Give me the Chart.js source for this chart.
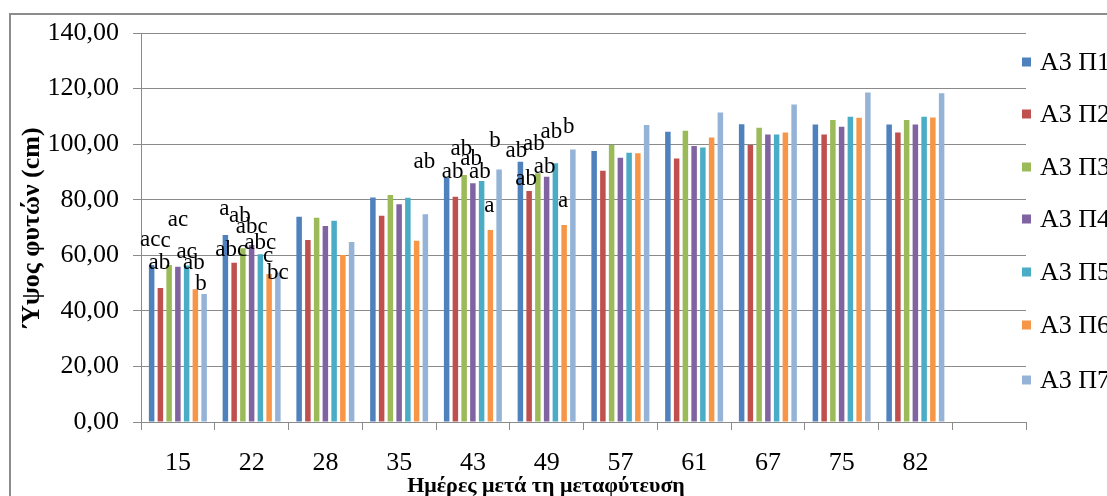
<!DOCTYPE html>
<html>
<head>
<meta charset="utf-8">
<script src="https://cdn.jsdelivr.net/npm/chart.js@4.4.1/dist/chart.umd.min.js"></script>
<style>
html,body{margin:0;padding:0;background:#fff;overflow:hidden;}
canvas{display:block;}
</style>
</head>
<body>
<canvas id="c" width="1107" height="496"></canvas>
<script>
// ---- data ----
const categories = ['15','22','28','35','43','49','57','61','67','75','82',''];
const seriesNames = ['Α3 Π1','Α3 Π2','Α3 Π3','Α3 Π4','Α3 Π5','Α3 Π6','Α3 Π7'];
const p1 = [56.5, 67.3, 73.9, 80.8, 88.0, 93.7, 97.5, 104.5, 107.2, 107.1, 107.1];
const p2 = [48.2, 57.3, 65.5, 74.2, 81.1, 83.1, 90.4, 94.8, 99.7, 103.5, 104.2];
const p3 = [56.5, 62.5, 73.5, 81.7, 88.9, 89.5, 99.7, 104.8, 105.9, 108.7, 108.7];
const p4 = [55.9, 63.7, 70.5, 78.4, 85.9, 88.3, 95.1, 99.3, 103.5, 106.3, 107.1];
const p5 = [56.3, 60.4, 72.4, 80.7, 86.7, 93.1, 96.9, 98.8, 103.5, 109.9, 109.9];
const p6 = [47.8, 53.3, 60.1, 65.2, 69.1, 70.9, 96.7, 102.4, 104.2, 109.5, 109.6];
const p7 = [46.1, 53.8, 64.8, 74.8, 90.9, 98.1, 106.9, 111.4, 114.3, 118.6, 118.3];
const yMin = 0, yMax = 140, yStep = 20;
const yTitle = 'Ύψος φυτών (cm)';
const xTitle = 'Ημέρες μετά τη μεταφύτευση';
// significance letters: [category index, series index, text]
const letterText = [
  [0,0,'ac'],[0,2,'c'],[0,1,'ab'],[0,3,'ac'],[0,4,'ac'],[0,5,'ab'],[0,6,'b'],
  [1,0,'a'],[1,2,'ab'],[1,3,'abc'],[1,1,'abc'],[1,4,'abc'],[1,5,'c'],[1,6,'bc'],
  [3,6,'ab'],
  [4,0,'ab'],[4,1,'ab'],[4,2,'ab'],[4,3,'ab'],[4,5,'a'],[4,6,'b'],
  [5,0,'ab'],[5,2,'ab'],[5,4,'ab'],[5,6,'b'],[5,1,'ab'],[5,3,'ab'],[5,5,'a']
];
// ---- style ----
const letterOffsets = [
  [-1.5,-19],[-3.5,-18],[-1,-19],[0,-41],[0,-8],[-1.5,-20],[-3,-4],
  [-1,-20],[-3,-26],[0,-12],[-3,-7],[0,-5],[-1,-12],[0,6],
  [-1,-46],
  [6,1],[6,-42],[7,-10],[7,-5],[-1,-18],[-4,-22],
  [-4,-5],[-4,-23],[-4,-25],[-4,-16],[-3,-6],[-2,-4],[-1,-18]
];
const colors = ['#4F81BD','#C0504D','#9BBB59','#8064A2','#4BACC6','#F79646','#95B3D7'];
const serif = "'Liberation Serif','Times New Roman',serif";
const gridColor = '#8a8a8a';

const seriesData = [p1,p2,p3,p4,p5,p6,p7];
const datasets = seriesData.map((d,i)=>({
  label: seriesNames[i], data: d, backgroundColor: colors[i], borderWidth: 0,
  categoryPercentage: 0.83, barPercentage: 0.63
}));

const decor = {
  id: 'decor',
  beforeDraw(chart){
    const ctx = chart.ctx;
    ctx.save();
    ctx.fillStyle = '#fff';
    ctx.fillRect(0,0,chart.width,chart.height);
    ctx.restore();
  },
  afterDatasetsDraw(chart){
    const ctx = chart.ctx;
    ctx.save();
    ctx.fillStyle = '#000';
    ctx.font = '23px ' + serif;
    ctx.textAlign = 'center';
    ctx.textBaseline = 'alphabetic';
    letterText.forEach((a,i)=>{
      const el = chart.getDatasetMeta(a[1]).data[a[0]];
      if(!el) return;
      const off = letterOffsets[i];
      ctx.fillText(a[2], el.x + off[0], el.y + off[1]);
    });
    ctx.restore();
  },
  afterDraw(chart){
    const ctx = chart.ctx;
    ctx.save();
    // frame
    ctx.strokeStyle = '#8c8c8c';
    ctx.lineWidth = 2;
    ctx.strokeRect(10, 14, 1300, 700);
    // x title
    ctx.fillStyle = '#000';
    ctx.font = 'bold 22px ' + serif;
    ctx.textAlign = 'center';
    ctx.textBaseline = 'middle';
    ctx.fillText(xTitle, 546, 486);
    // legend
    ctx.font = '26px ' + serif;
    ctx.textAlign = 'left';
    const ly = [62, 114, 167, 219, 272, 325, 380];
    chart.data.datasets.forEach((ds,i)=>{
      ctx.fillStyle = ds.backgroundColor;
      ctx.fillRect(1022, ly[i]-4.5, 9, 9);
      ctx.fillStyle = '#000';
      ctx.fillText(ds.label, 1040, ly[i]+1);
    });
    ctx.restore();
  }
};

new Chart(document.getElementById('c'), {
  type: 'bar',
  data: { labels: categories, datasets },
  plugins: [decor],
  options: {
    responsive: false,
    animation: false,
    devicePixelRatio: 1,
    layout: { padding: { left: 0, top: 33, right: 81, bottom: 0 } },
    plugins: { legend: { display: false }, tooltip: { enabled: false } },
    scales: {
      x: {
        grid: { display: true, drawOnChartArea: false, drawTicks: true, tickLength: 8, offset: true, color: gridColor },
        border: { display: true, color: gridColor },
        ticks: { color: '#000', font: { family: serif, size: 26 }, padding: 18, maxRotation: 0, autoSkip: false },
        afterFit(s){ s.height = 74; }
      },
      y: {
        min: yMin, max: yMax,
        grid: { color: gridColor, tickLength: 8, drawTicks: true },
        border: { display: true, color: gridColor },
        ticks: { stepSize: yStep, color: '#000', font: { family: serif, size: 26 }, padding: 14,
          callback: v => v.toFixed(2).replace('.', ',') },
        title: { display: true, text: yTitle, color: '#000', font: { family: serif, size: 26, weight: 'bold' }, padding: { top: 17, bottom: 0 } },
        afterFit(s){ s.width = 141; }
      }
    }
  }
});
</script>
</body>
</html>
